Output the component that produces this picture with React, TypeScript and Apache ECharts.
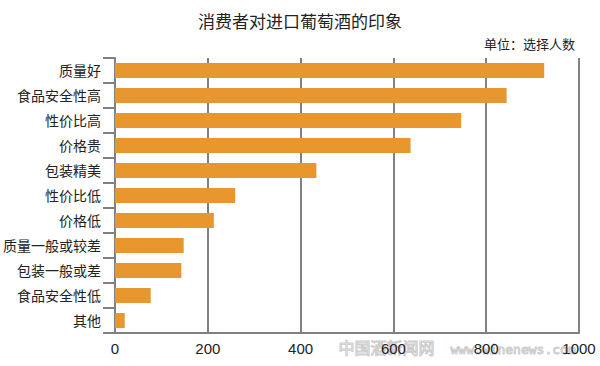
import React, { useEffect, useRef } from "react";
import * as echarts from "echarts";

const categories = ["质量好", "食品安全性高", "性价比高", "价格贵", "包装精美", "性价比低", "价格低", "质量一般或较差", "包装一般或差", "食品安全性低", "其他"];
const values = [925, 844, 746, 637, 434, 259, 213, 148, 143, 77, 21];
const xTicks = [0, 200, 400, 600, 800, 1000];

const FONT = '"Liberation Sans", "Noto Sans CJK SC", sans-serif';

export default function App() {
  const ref = useRef<HTMLDivElement>(null);
  useEffect(() => {
    const chart = echarts.init(ref.current!, null, { renderer: "svg" });
    chart.setOption({
      animation: false,
      backgroundColor: "#ffffff",
      title: [
        { text: "消费者对进口葡萄酒的印象", left: "center", top: 9, textStyle: { fontFamily: FONT, fontSize: 17, fontWeight: "normal", color: "#222" } },
        { text: "单位：选择人数", right: 20, top: 33, textStyle: { fontFamily: FONT, fontSize: 13, fontWeight: "normal", color: "#222" } },
      ],
      grid: { left: 114, right: 21, top: 58, bottom: 33, containLabel: false },
      xAxis: {
        type: "value",
        min: xTicks[0],
        max: xTicks[xTicks.length - 1],
        interval: 200,
        axisLine: { show: true, lineStyle: { color: "#808080", width: 2 } },
        axisTick: { show: false },
        axisLabel: { fontFamily: FONT, fontSize: 15, color: "#222", margin: 8, formatter: (v: number) => String(v) },
        splitLine: { show: true, lineStyle: { color: "#808080", width: 2 } },
      },
      yAxis: {
        type: "category",
        data: categories,
        inverse: true,
        axisLine: { show: true, lineStyle: { color: "#808080", width: 2 } },
        axisTick: { show: true, length: 12, lineStyle: { color: "#808080", width: 2 } },
        axisLabel: { fontFamily: FONT, fontSize: 14, color: "#222", margin: 14 },
      },
      series: [
        {
          type: "bar",
          data: values,
          barWidth: 15,
          itemStyle: { color: "#E8962E" },
        },
      ],
      graphic: [
        {
          type: "text",
          left: 338,
          top: 340,
          silent: true,
          style: { text: "中国酒新闻网", fontFamily: FONT, fontSize: 16, fill: "rgba(255,255,255,0.2)", stroke: "rgba(150,150,150,0.55)", lineWidth: 1 },
        },
        {
          type: "text",
          left: 450,
          top: 342,
          silent: true,
          style: { text: "www.winenews.com", fontFamily: '"DejaVu Sans Mono", monospace', fontSize: 13, fill: "rgba(255,255,255,0.2)", stroke: "rgba(150,150,150,0.55)", lineWidth: 1 },
        },
      ],
    });
    return () => chart.dispose();
  }, []);
  return <div ref={ref} style={{ width: 600, height: 366, position: "absolute", left: 0, top: 0 }} />;
}
